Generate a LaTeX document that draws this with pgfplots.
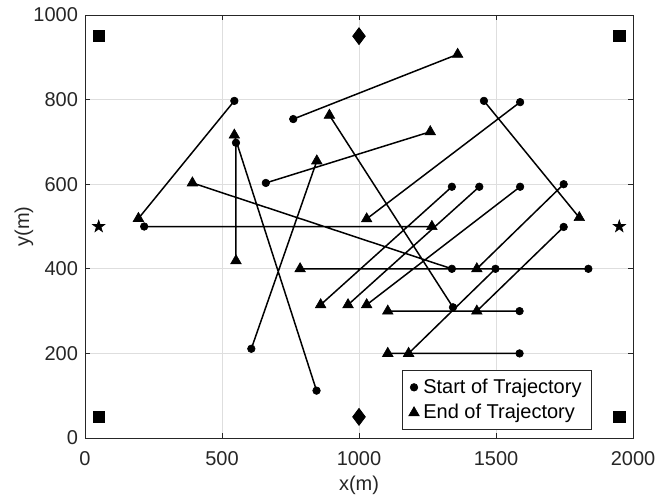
\documentclass[border=0pt]{standalone}
\usepackage{fontspec}
\setmainfont{Liberation Sans}
\usepackage{pgfplots}
\usepackage{pgfplotstable}
\pgfplotsset{compat=1.18}

\definecolor{axgray}{RGB}{38,38,38}
\definecolor{gridgray}{RGB}{222,222,222}

% filled five-pointed star
\pgfdeclareplotmark{fstar}{%
  \pgfpathmoveto{\pgfpointpolar{90}{\pgfplotmarksize}}%
  \pgfpathlineto{\pgfpointpolar{126}{0.382\pgfplotmarksize}}%
  \pgfpathlineto{\pgfpointpolar{162}{\pgfplotmarksize}}%
  \pgfpathlineto{\pgfpointpolar{198}{0.382\pgfplotmarksize}}%
  \pgfpathlineto{\pgfpointpolar{234}{\pgfplotmarksize}}%
  \pgfpathlineto{\pgfpointpolar{270}{0.382\pgfplotmarksize}}%
  \pgfpathlineto{\pgfpointpolar{306}{\pgfplotmarksize}}%
  \pgfpathlineto{\pgfpointpolar{342}{0.382\pgfplotmarksize}}%
  \pgfpathlineto{\pgfpointpolar{18}{\pgfplotmarksize}}%
  \pgfpathlineto{\pgfpointpolar{54}{0.382\pgfplotmarksize}}%
  \pgfpathclose
  \pgfusepathqfillstroke}

% trajectories: start, end, blank row
\pgfplotstableread{
x y
545 797
195 519
nan nan
216 500
1266 500
nan nan
660 603
1260 724
nan nan
760 754
1360 907
nan nan
845 112
545 716
nan nan
551 698
551 419
nan nan
607 211
846 655
nan nan
1456 797
1804 521
nan nan
1343 309
892 763
nan nan
1588 794
1028 518
nan nan
1339 400
392 603
nan nan
1339 594
860 315
nan nan
1439 594
960 315
nan nan
1588 594
1028 315
nan nan
1747 600
1430 400
nan nan
1747 499
1430 300
nan nan
1498 400
1181 200
nan nan
1837 400
785 400
nan nan
1586 300
1105 300
nan nan
1586 200
1105 200
}\segs

\pgfplotstableread{
x y
545 797
216 500
660 603
760 754
845 112
551 698
607 211
1456 797
1343 309
1588 794
1339 400
1339 594
1439 594
1588 594
1747 600
1747 499
1498 400
1837 400
1586 300
1586 200
}\starts

\pgfplotstableread{
x y
195 519
1266 500
1260 724
1360 907
545 716
551 419
846 655
1804 521
892 763
1028 518
392 603
860 315
960 315
1028 315
1430 400
1430 300
1181 200
785 400
1105 300
1105 200
}\ends

\begin{document}
\begin{tikzpicture}
\begin{axis}[
    at={(0,0)}, anchor=south west,
    scale only axis,
    width=274pt, height=211.5pt,
    xmin=0, xmax=2000, ymin=0, ymax=1000,
    xtick={0,500,...,2000},
    ytick={0,200,...,1000},
    grid=major,
    grid style={gridgray, line width=0.4pt},
    axis line style={axgray, line width=0.5pt},
    tick style={axgray, line width=0.5pt},
    tick align=inside,
    major tick length=2.5pt,
    ticklabel style={font=\fontsize{10}{12}\selectfont, text=axgray},
    xticklabel style={yshift=-3pt},
    /pgf/number format/assume math mode=true,
    /pgf/number format/set thousands separator={},
    scaled ticks=false,
    xlabel={x(m)}, ylabel={y(m)},
    every axis x label/.style={at={(axis description cs:0.5,0)}, anchor=center, yshift=-23.5pt, text=axgray, font=\fontsize{10}{12}\selectfont},
    every axis y label/.style={at={(axis description cs:0,0.5)}, xshift=-30.5pt, rotate=90, anchor=center, text=axgray, font=\fontsize{10}{12}\selectfont},
    legend image code/.code={\draw[#1] plot coordinates {(0.12cm,0cm)};},
    legend style={at={(0.925,0.019)}, anchor=south east, draw=axgray, fill=white,
        font=\fontsize{10}{12}\selectfont, inner xsep=3pt, inner ysep=2pt,
        row sep=0pt},
    legend cell align=left,
]

\addplot[black, line width=0.75pt, unbounded coords=jump, forget plot] table {\segs};

\addplot[only marks, mark=*, mark size=1.9pt, black, mark options={line width=0.3pt}] table {\starts};
\addplot[only marks, mark=triangle*, mark size=3.05pt, black, mark options={line width=0.3pt}] table {\ends};

% fixed points
\addplot[only marks, mark=square*, mark size=2.8pt, black, forget plot] coordinates {
    (50,950) (1950,950) (50,50) (1950,50)
};
\addplot[only marks, mark=diamond*, mark size=4.2pt, black, forget plot] coordinates {
    (1000,950) (1000,50)
};
\addplot[only marks, mark=fstar, mark size=3.2pt, black, mark options={line width=0.3pt}, forget plot] coordinates {
    (50,500) (1950,500)
};

\legend{Start of Trajectory, End of Trajectory}
\end{axis}
\pgfresetboundingbox
\useasboundingbox (-42.5pt,-28.5pt) rectangle (291.5pt,219pt);
\end{tikzpicture}
\end{document}
